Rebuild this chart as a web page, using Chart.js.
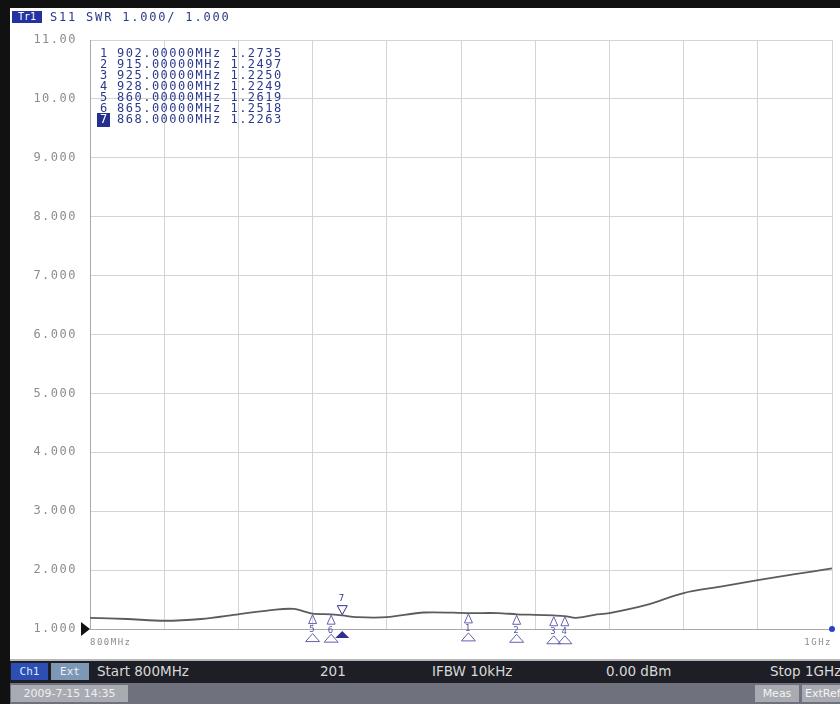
<!DOCTYPE html>
<html>
<head>
<meta charset="utf-8">
<script src="https://cdn.jsdelivr.net/npm/chart.js@4.4.0/dist/chart.umd.min.js"></script>
<style>
    body { margin: 0; background: #fff; }
    #wrap { position: relative; width: 840px; height: 704px; overflow: hidden; background: #fff; font-family: 'DejaVu Sans Mono', monospace; }
    #swrChart { position: absolute; left: 0; top: 0; }
    .bar { position: absolute; }
    .lbl { position: absolute; white-space: nowrap; }
    .st { position: absolute; white-space: nowrap; top: 663px; color: #d8d8d8; font-family: 'DejaVu Sans'; font-size: 13.5px; }
</style>
</head>
<body>
<div id="wrap">
    <canvas id="swrChart" width="840" height="704"></canvas>

    <!-- screen frame -->
    <div class="bar" style="left:0;top:0;width:840px;height:8px;background:#111;"></div>
    <div class="bar" style="left:0;top:0;width:10px;height:704px;background:#111;"></div>

    <!-- trace title -->
    <div class="lbl" style="left:12px;top:11px;width:30px;height:12px;background:#2431a0;color:#fff;font-size:10px;line-height:12px;text-align:center;">Tr1</div>
    <div class="lbl" style="left:50px;top:10px;color:#2a3a8a;font-size:12px;letter-spacing:1.8px;line-height:14px;">S11 SWR 1.000/ 1.000</div>

    <!-- channel status bar -->
    <div class="bar" style="left:10px;top:659px;width:830px;height:2px;background:#b8b8b8;"></div>
    <div class="bar" style="left:10px;top:661px;width:830px;height:22px;background:#1e1f26;"></div>
    <div class="lbl" style="left:11px;top:663px;width:37px;height:17px;background:#2d4fb4;color:#dfe6ff;font-size:11px;line-height:17px;text-align:center;">Ch1</div>
    <div class="lbl" style="left:51px;top:663px;width:38px;height:17px;background:#7d98b4;color:#eef;font-size:11px;line-height:17px;text-align:center;">Ext</div>
    <div class="st" style="left:97px;">Start 800MHz</div>
    <div class="st" style="left:320px;">201</div>
    <div class="st" style="left:432px;">IFBW 10kHz</div>
    <div class="st" style="left:606px;">0.00 dBm</div>
    <div class="st" style="left:770px;">Stop 1GHz</div>

    <!-- instrument status bar -->
    <div class="bar" style="left:10px;top:683px;width:830px;height:21px;background:#6f727d;"></div>
    <div class="lbl" style="left:11px;top:685px;width:117px;height:17px;background:#a9abb2;color:#eee;font-family:'DejaVu Sans';font-size:11px;line-height:17px;text-align:center;">2009-7-15 14:35</div>
    <div class="lbl" style="left:755px;top:685px;width:44px;height:17px;background:#a9abb2;color:#f4f4f4;font-family:'DejaVu Sans';font-size:11px;line-height:17px;text-align:center;">Meas</div>
    <div class="lbl" style="left:802px;top:685px;width:44px;height:17px;background:#a9abb2;color:#f4f4f4;font-family:'DejaVu Sans';font-size:11px;line-height:17px;text-align:left;padding-left:3px;">ExtRef</div>
</div>

<script>
// S11 SWR trace
const freqMHz = [800, 810, 820, 830, 840, 850, 855, 860, 865, 868, 872, 880, 890, 902, 910, 915, 920, 925, 928, 931, 936, 940, 950, 960, 970, 980, 990, 1000];
const swr     = [1.19, 1.17, 1.14, 1.17, 1.25, 1.33, 1.34, 1.26, 1.25, 1.23, 1.20, 1.20, 1.28, 1.27, 1.27, 1.25, 1.24, 1.23, 1.22, 1.19, 1.24, 1.27, 1.41, 1.61, 1.72, 1.83, 1.93, 2.03];

// markers 1..7
const markerFreq = [902, 915, 925, 928, 860, 865, 868];
const markerSwr  = [1.2735, 1.2497, 1.2250, 1.2249, 1.2619, 1.2518, 1.2263];
const activeMarker = 6;

// axis range
const startMHz = 800;
const stopMHz = 1000;
const swrMin = 1;
const swrMax = 11;

const fmtSwr = (v) => v >= 10 ? v.toFixed(2) : v.toFixed(3);

const markerPlugin = {
    id: 'markers',
    beforeDraw(chart) {
        chart.ctx.letterSpacing = '1.5px';
    },
    afterDatasetsDraw(chart) {
        const { ctx, chartArea, scales: { x, y } } = chart;
        ctx.save();

        // marker table
        ctx.font = '12px "DejaVu Sans Mono", monospace';
        ctx.textBaseline = 'middle';
        ctx.textAlign = 'left';
        markerFreq.forEach((f, i) => {
            const ty = chartArea.top + 14 + i * 11;
            const tx = chartArea.left + 10;
            if (i === activeMarker) {
                ctx.fillStyle = '#24308e';
                ctx.fillRect(tx - 3, ty - 7, 13, 14);
                ctx.fillStyle = '#fff';
            } else {
                ctx.fillStyle = '#2b3a8c';
            }
            ctx.fillText(String(i + 1), tx, ty);
            ctx.fillStyle = '#2b3a8c';
            ctx.fillText(`${f.toFixed(5)}MHz ${markerSwr[i].toFixed(4)}`, tx + 17, ty);
        });

        // marker symbols on the trace
        ctx.lineWidth = 1;
        ctx.font = '9px "DejaVu Sans Mono", monospace';
        ctx.textAlign = 'center';
        markerFreq.forEach((f, i) => {
            const px = x.getPixelForValue(f);
            const py = y.getPixelForValue(markerSwr[i]);
            if (i === activeMarker) {
                ctx.strokeStyle = '#303090';
                ctx.fillStyle = '#303090';
                ctx.beginPath();
                ctx.moveTo(px, py - 1);
                ctx.lineTo(px - 5, py - 10);
                ctx.lineTo(px + 5, py - 10);
                ctx.closePath();
                ctx.stroke();
                ctx.fillText('7', px, py - 17);
                // stimulus pointer under the axis
                const by = chartArea.bottom;
                ctx.beginPath();
                ctx.moveTo(px, by + 2);
                ctx.lineTo(px - 7, by + 9);
                ctx.lineTo(px + 7, by + 9);
                ctx.closePath();
                ctx.fill();
            } else {
                ctx.strokeStyle = '#6262b0';
                ctx.fillStyle = '#5555a8';
                ctx.beginPath();
                ctx.moveTo(px, py + 1);
                ctx.lineTo(px - 4, py + 10);
                ctx.lineTo(px + 4, py + 10);
                ctx.closePath();
                ctx.stroke();
                ctx.fillText(String(i + 1), px, py + 16);
                ctx.beginPath();
                ctx.moveTo(px, py + 20);
                ctx.lineTo(px - 7, py + 28);
                ctx.lineTo(px + 7, py + 28);
                ctx.closePath();
                ctx.stroke();
            }
        });

        // reference level pointer and right end dot
        const ry = y.getPixelForValue(swrMin);
        ctx.fillStyle = '#111';
        ctx.beginPath();
        ctx.moveTo(chartArea.left, ry);
        ctx.lineTo(chartArea.left - 9, ry - 7);
        ctx.lineTo(chartArea.left - 9, ry + 7);
        ctx.closePath();
        ctx.fill();
        ctx.fillStyle = '#2244cc';
        ctx.beginPath();
        ctx.arc(chartArea.right, ry, 3, 0, Math.PI * 2);
        ctx.fill();

        ctx.restore();
    }
};

new Chart(document.getElementById('swrChart'), {
    type: 'line',
    data: {
        datasets: [{
            label: 'S11 SWR',
            data: freqMHz.map((f, i) => ({ x: f, y: swr[i] })),
            borderColor: '#5c5c5c',
            borderWidth: 1.8,
            pointRadius: 0,
            tension: 0.3,
            fill: false,
        }]
    },
    options: {
        responsive: false,
        animation: false,
        devicePixelRatio: 1,
        layout: { padding: { left: 10, top: 40, right: 3, bottom: 44 } },
        plugins: {
            legend: { display: false },
            tooltip: { enabled: false },
        },
        scales: {
            x: {
                type: 'linear',
                min: startMHz,
                max: stopMHz,
                afterFit: (s) => { s.height = 31; },
                grid: { color: '#d4d4d4', tickLength: 0 },
                border: { display: true, color: '#a8a8a8' },
                ticks: {
                    stepSize: 20,
                    autoSkip: false,
                    maxRotation: 0,
                    align: 'inner',
                    padding: 8,
                    color: '#8c8c8c',
                    font: { family: 'DejaVu Sans Mono', size: 9 },
                    callback: (v) => v === startMHz ? '800MHz' : (v === stopMHz ? '1GHz' : ''),
                }
            },
            y: {
                type: 'linear',
                min: swrMin,
                max: swrMax,
                afterFit: (s) => { s.width = 80; },
                grid: { color: (c) => c.tick && c.tick.value === swrMin ? '#9a9a9a' : '#d4d4d4', tickLength: 0 },
                border: { display: true, color: '#a8a8a8' },
                ticks: {
                    stepSize: 1,
                    padding: 13,
                    color: '#8c8c8c',
                    font: { family: 'DejaVu Sans Mono', size: 12 },
                    callback: (v) => fmtSwr(v),
                }
            }
        }
    },
    plugins: [markerPlugin]
});
</script>
</body>
</html>
